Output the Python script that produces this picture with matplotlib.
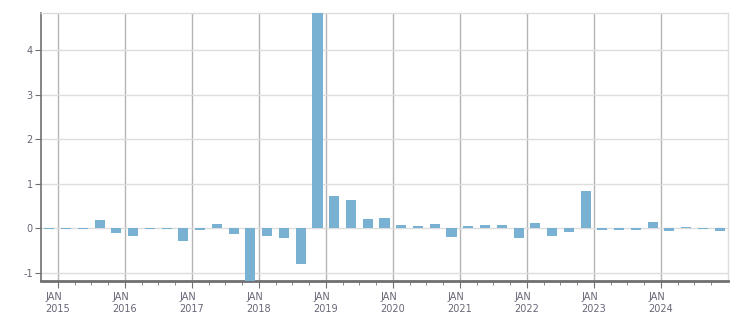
import matplotlib
matplotlib.use("Agg")
import matplotlib.pyplot as plt

plt.rcParams["axes.unicode_minus"] = False

quarters = ["2014Q4",
            "2015Q1", "2015Q2", "2015Q3", "2015Q4",
            "2016Q1", "2016Q2", "2016Q3", "2016Q4",
            "2017Q1", "2017Q2", "2017Q3", "2017Q4",
            "2018Q1", "2018Q2", "2018Q3", "2018Q4",
            "2019Q1", "2019Q2", "2019Q3", "2019Q4",
            "2020Q1", "2020Q2", "2020Q3", "2020Q4",
            "2021Q1", "2021Q2", "2021Q3", "2021Q4",
            "2022Q1", "2022Q2", "2022Q3", "2022Q4",
            "2023Q1", "2023Q2", "2023Q3", "2023Q4",
            "2024Q1", "2024Q2", "2024Q3", "2024Q4"]
values = [-0.01,
          -0.01, -0.01, 0.19, -0.10,
          -0.17, -0.01, -0.01, -0.28,
          -0.04, 0.10, -0.13, -1.50,
          -0.17, -0.21, -0.80, 5.20,
          0.73, 0.64, 0.21, 0.23,
          0.075, 0.05, 0.10, -0.19,
          0.05, 0.075, 0.075, -0.22,
          0.12, -0.17, -0.075, 0.84,
          -0.04, -0.04, -0.04, 0.14,
          -0.06, 0.03, -0.01, -0.06]
years = list(range(2015, 2025))
year_labels = ["JAN\n%d" % y for y in years]

# bar centred in the middle of its quarter
xpos = [int(q[:4]) + (int(q[-1]) - 1) * 0.25 + 0.125 for q in quarters]

fig = plt.figure(figsize=(7.51, 3.13), dpi=100)
ax = fig.add_axes([41 / 751, 1 - 281 / 313, (728 - 41) / 751, (281 - 13) / 313])

ax.bar(xpos, values, width=0.15, color="#79b1d3", zorder=3)

ax.set_xlim(2014.75, 2025.0)
ax.set_ylim(-1.18, 4.84)

ax.set_xticks(years)
ax.set_xticklabels(year_labels)
ax.set_xticks([y + q * 0.25 for y in range(2014, 2025) for q in (1, 2, 3)
               if 2014.75 < y + q * 0.25 < 2025], minor=True)
ax.set_yticks([-1, 0, 1, 2, 3, 4])

ax.grid(axis="x", color="#b4b4b4", linewidth=1, zorder=0)
ax.grid(axis="y", color="#dddddd", linewidth=1, zorder=0)

for side in ["top", "right"]:
    ax.spines[side].set_color("#dddddd")
    ax.spines[side].set_linewidth(1)
ax.spines["left"].set_color("#707070")
ax.spines["left"].set_linewidth(1.2)
ax.spines["bottom"].set_color("#707070")
ax.spines["bottom"].set_linewidth(2)

ax.tick_params(axis="x", which="major", length=5, color="#707070", labelsize=7,
               labelcolor="#666677", pad=3)
ax.tick_params(axis="x", which="minor", length=3, color="#707070")
ax.tick_params(axis="y", length=4, color="#707070", labelsize=7, labelcolor="#666677", pad=2)
for lab in ax.get_xticklabels():
    lab.set_horizontalalignment("center")
    lab.set_multialignment("left")

fig.savefig("out.png", dpi=100)
